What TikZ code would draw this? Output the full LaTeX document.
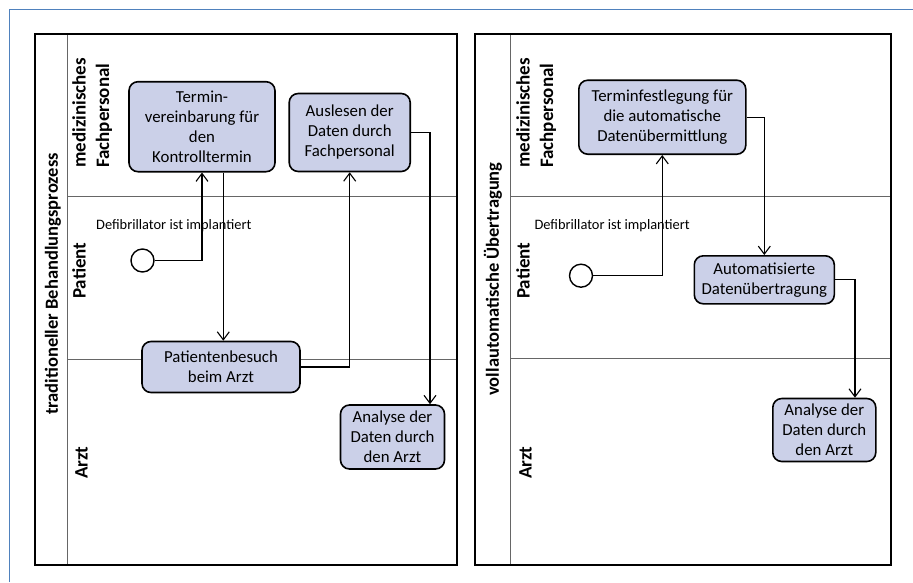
\documentclass[tikz,border=0pt]{standalone}
\usepackage{fontspec}
\setmainfont{Carlito}
\usepackage{tikz}
\usetikzlibrary{arrows.meta,positioning,calc}
\definecolor{boxfill}{HTML}{CBD0E8}
\definecolor{framblue}{HTML}{4F81BD}
\tikzstyle{pool}=[line width=2pt,draw=black]
\tikzstyle{lane}=[line width=0.8pt,draw=black!60]
\tikzstyle{task}=[draw,line width=1.6pt,fill=boxfill,rounded corners=9pt,align=center,font=\fontsize{16.8}{20}\selectfont,inner sep=0pt]
\tikzstyle{startev}=[circle,draw,line width=1.4pt,minimum size=23pt,inner sep=0pt]
\tikzstyle{flow}=[line width=1.1pt,-{Straight Barb[length=8pt,width=12pt,line width=1.1pt]}]
\tikzstyle{poollabel}=[rotate=90,font=\bfseries\fontsize{18.5}{22}\selectfont]
\tikzstyle{lanelabel}=[rotate=90,font=\bfseries\fontsize{19}{23.5}\selectfont,align=left,anchor=north west,inner sep=0pt]
\tikzstyle{evlabel}=[font=\fontsize{14.4}{16}\selectfont,inner sep=0pt]

\begin{document}
\begin{tikzpicture}[x=1pt,y=-1pt]
      \useasboundingbox (0,0) rectangle (913,582);
      % frame
      \draw[framblue,line width=1.3pt] (9.5,582) -- (9.5,9.5) -- (913,9.5);
      % left pool
      \draw[lane] (67.5,33.5) -- (67.5,565);
      \draw[lane] (67.5,196) -- (456.5,196);
      \draw[lane] (67.5,359) -- (456.5,359);
      \draw[pool] (34.5,33.5) rectangle (456.5,565);
      \node[poollabel] (p1lbl) at (53,284) {traditioneller Behandlungsprozess};
      \node[lanelabel] (l1a) at (72,168) {medizinisches\\Fachpersonal};
      \node[lanelabel] (l1b) at (72,299) {Patient};
      \node[lanelabel] (l1c) at (75,479) {Arzt};

      \node[task,minimum width=146pt,minimum height=90pt] at (202,126.7) (t1) {Termin-\\vereinbarung für\\den\\Kontrolltermin};
      \node[task,minimum width=121pt,minimum height=78pt] at (349.7,132.5) (a1) {Auslesen der\\Daten durch\\Fachpersonal};
      \node[task,minimum width=158pt,minimum height=51pt] at (221,367) (p1) {Patientenbesuch\\beim Arzt};
      \node[task,minimum width=104pt,minimum height=64pt] at (392.5,437) (d1) {Analyse der\\Daten durch\\den Arzt};
      \node[startev] at (142.5,260.5) (s1) {};
      \node[evlabel,anchor=west] at (96,225.7) (e1) {Defibrillator ist implantiert};

      \draw[flow] (s1) -| (t1);
      \draw[flow] ([xshift=21.3pt]t1.south) -- ([xshift=21.3pt]t1.south |- p1.north);
      \draw[flow] (p1.east) -| (a1);
      \draw[flow] (a1.east) -| ([xshift=37.5pt]d1.north);

      % right pool
      \draw[lane] (510,33.5) -- (510,565);
      \draw[lane] (510,196) -- (890.7,196);
      \draw[lane] (510,358) -- (890.7,358);
      \draw[pool] (475,33.5) rectangle (890.7,565);
      \node[poollabel] (p2lbl) at (493,279) {vollautomatische Übertragung};
      \node[lanelabel] (l2a) at (516,168) {medizinisches\\Fachpersonal};
      \node[lanelabel] (l2b) at (516,299) {Patient};
      \node[lanelabel] (l2c) at (519,479) {Arzt};

      \node[task,minimum width=167pt,minimum height=74pt] at (662.3,117.2) (t2) {Terminfestlegung für\\die automatische\\Datenübermittlung};
      \node[task,minimum width=140pt,minimum height=48pt] at (764.3,279.8) (u2) {Automatisierte\\Datenübertragung};
      \node[task,minimum width=103pt,minimum height=63pt] at (824.3,430) (d2) {Analyse der\\Daten durch\\den Arzt};
      \node[startev] at (581,275.7) (s2) {};
      \node[evlabel,anchor=west] at (534.3,225.7) (e2) {Defibrillator ist implantiert};

      \draw[flow] (s2) -| (t2);
      \draw[flow] (t2.east) -| (u2);
      \draw[flow] (u2.east) -| ([xshift=30.7pt]d2.north);
\end{tikzpicture}
\end{document}
